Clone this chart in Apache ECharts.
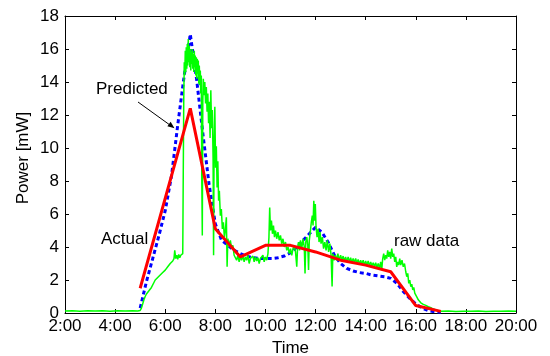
<!DOCTYPE html>
<html>
<head>
<meta charset="utf-8">
<script src="https://cdn.jsdelivr.net/npm/echarts@6/dist/echarts.min.js"></script>
<style>
html,body{margin:0;padding:0;background:#fff;}
#c{width:550px;height:356px;}
</style>
</head>
<body>
<div id="c"></div>
<script>
// Axis ticks
var xTicks = [2, 4, 6, 8, 10, 12, 14, 16, 18, 20];
var yTicks = [0, 2, 4, 6, 8, 10, 12, 14, 16, 18];

// Raw data (green)
var rawTime = [2.00,2.30,2.60,2.90,3.20,3.50,3.80,4.10,4.40,4.70,4.90,5.00,5.05,5.10,5.15,5.20,5.25,5.30,5.35,5.40,5.45,5.50,5.55,5.60,5.65,5.70,5.75,5.80,5.85,5.90,5.95,6.00,6.05,6.10,6.15,6.20,6.25,6.30,6.35,6.38,6.42,6.46,6.50,6.54,6.58,6.62,6.66,6.70,6.72,6.74,6.76,6.78,6.80,6.82,6.84,6.86,6.88,6.90,6.92,6.94,6.96,6.98,7.00,7.02,7.04,7.06,7.08,7.10,7.12,7.14,7.16,7.18,7.20,7.22,7.24,7.26,7.28,7.30,7.32,7.34,7.36,7.38,7.40,7.42,7.44,7.46,7.48,7.50,7.52,7.55,7.58,7.61,7.64,7.67,7.70,7.73,7.76,7.79,7.82,7.85,7.88,7.91,7.93,7.95,7.98,8.01,8.04,8.07,8.10,8.13,8.16,8.20,8.24,8.28,8.32,8.36,8.40,8.44,8.47,8.50,8.55,8.60,8.65,8.70,8.75,8.80,8.85,8.90,8.95,9.00,9.05,9.10,9.15,9.20,9.25,9.30,9.35,9.40,9.45,9.50,9.55,9.60,9.65,9.70,9.75,9.80,9.85,9.90,9.95,10.00,10.05,10.10,10.14,10.17,10.20,10.24,10.28,10.32,10.36,10.40,10.45,10.50,10.55,10.60,10.65,10.70,10.75,10.80,10.85,10.90,10.95,11.00,11.05,11.10,11.15,11.20,11.25,11.28,11.32,11.36,11.40,11.45,11.50,11.55,11.58,11.61,11.65,11.69,11.72,11.75,11.79,11.83,11.87,11.90,11.93,11.96,11.99,12.02,12.06,12.10,12.14,12.18,12.22,12.27,12.32,12.37,12.42,12.47,12.52,12.57,12.62,12.66,12.69,12.74,12.79,12.84,12.89,12.94,13.00,13.05,13.10,13.15,13.20,13.25,13.30,13.35,13.40,13.45,13.50,13.55,13.60,13.65,13.70,13.75,13.80,13.85,13.90,13.95,14.00,14.05,14.10,14.15,14.20,14.25,14.30,14.35,14.40,14.45,14.50,14.55,14.60,14.64,14.68,14.72,14.76,14.80,14.84,14.88,14.92,14.96,15.00,15.04,15.08,15.12,15.16,15.20,15.24,15.28,15.32,15.36,15.40,15.45,15.50,15.55,15.60,15.64,15.68,15.72,15.76,15.80,15.84,15.88,15.92,15.96,16.00,16.05,16.10,16.15,16.20,16.30,16.40,16.50,16.60,16.70,16.80,16.90,17.00,17.30,17.60,17.90,18.20,18.50,18.80,19.10,19.40,19.70,20.00];
var rawPower = [0.12,0.14,0.11,0.13,0.12,0.14,0.11,0.13,0.12,0.14,0.12,0.15,0.30,0.55,0.80,1.00,1.15,1.10,1.35,1.30,1.55,1.60,1.85,2.00,1.95,2.15,2.10,2.30,2.25,2.45,2.40,2.60,2.55,2.80,2.75,3.00,2.95,3.15,3.30,3.80,3.30,3.50,3.25,3.55,3.35,3.50,3.40,3.60,8.50,13.00,15.20,14.40,15.90,14.60,16.10,14.80,16.30,15.00,16.60,15.20,16.20,14.90,16.00,14.70,15.80,15.10,16.00,14.80,15.70,14.60,15.90,14.90,15.60,14.40,15.50,14.20,15.40,14.50,15.30,13.90,15.00,13.80,14.70,13.30,14.40,8.00,4.70,12.80,14.20,13.20,14.00,12.70,13.70,12.20,13.30,11.50,12.80,10.60,13.50,11.20,12.30,9.40,3.50,10.20,12.50,8.80,10.10,7.60,9.20,6.80,7.40,5.90,6.30,5.10,5.50,4.60,5.00,5.80,2.80,4.50,4.10,4.40,3.90,4.10,3.50,3.60,3.20,3.50,3.10,3.40,3.20,3.50,3.10,3.40,3.20,3.50,3.00,3.30,3.20,3.45,3.10,3.40,3.15,3.35,3.00,3.30,3.20,3.50,3.10,3.40,3.20,3.60,4.60,6.40,5.00,5.60,4.80,5.30,4.60,5.00,4.50,4.90,4.40,4.70,4.20,4.50,4.00,4.30,3.80,4.00,3.60,3.90,3.50,3.90,4.10,3.70,2.80,3.90,4.30,3.80,4.40,3.90,4.50,4.00,2.40,4.30,4.60,4.10,2.60,4.40,4.90,5.50,5.90,5.30,6.80,5.60,6.60,5.20,4.60,5.10,4.30,4.90,4.20,4.60,3.90,4.30,3.80,4.40,3.70,4.20,3.50,1.60,3.60,3.20,3.50,3.20,3.60,3.20,3.50,3.20,3.45,3.15,3.40,3.10,3.40,3.10,3.35,3.05,3.30,3.05,3.30,3.00,3.25,2.95,3.20,2.95,3.20,2.90,3.15,2.90,3.15,2.85,3.10,2.85,3.05,2.80,3.05,2.75,3.00,2.70,3.10,2.60,3.30,3.60,3.20,3.50,3.30,3.80,3.40,3.70,3.30,3.90,3.40,3.60,3.10,3.40,2.80,3.10,2.90,3.30,2.90,3.20,2.80,3.00,2.50,2.20,2.40,1.80,2.00,1.60,1.75,1.40,1.55,1.20,1.10,0.95,0.80,0.70,0.62,0.52,0.46,0.38,0.32,0.24,0.18,0.13,0.10,0.12,0.09,0.11,0.10,0.12,0.09,0.11,0.10,0.12,0.10];

// Actual (red)
var actualTime  = [5, 7, 8, 9, 10, 11, 12, 13, 14, 15, 16, 17];
var actualPower = [1.5, 12.4, 5.1, 3.4, 4.1, 4.1, 3.7, 3.2, 2.9, 2.5, 0.45, 0.1];

// Predicted (blue)
var predTime  = [5.0,5.25,5.5,5.75,6.0,6.25,6.5,6.75,7.0,7.25,7.5,7.75,8.0,8.25,8.5,8.75,9.0,9.25,9.5,9.75,10.0,10.25,10.5,10.75,11.0,11.25,11.5,11.75,12.0,12.25,12.5,12.75,13.0,13.25,13.5,13.75,14.0,14.25,14.5,14.75,15.0,15.25,15.5,15.75,16.0,16.25,16.5,16.75,17.0];
var predPower = [0.3,1.9,3.3,4.7,6.2,8.3,11.4,14.3,16.9,14.2,10.9,7.8,5.4,4.4,4.1,3.8,3.6,3.45,3.35,3.3,3.3,3.3,3.35,3.45,3.65,4.0,4.4,4.8,5.2,4.9,4.3,3.5,3.0,2.7,2.55,2.45,2.4,2.3,2.25,2.2,2.1,1.8,1.3,0.9,0.55,0.3,0.15,0.08,0.05];

function zip(a, b) { var r = []; for (var i = 0; i < a.length; i++) r.push([a[i], b[i]]); return r; }

var FONT = '"Liberation Sans", Arial, Helvetica, sans-serif';
var chart = echarts.init(document.getElementById('c'), null, {renderer: 'canvas'});

var axisCommon = {
  axisLine: {show: true, onZero: false, lineStyle: {color: '#000', width: 1}},
  axisTick: {show: true, inside: true, length: 4, lineStyle: {color: '#000', width: 1}},
  splitLine: {show: false}
};

var option = {
  animation: false,
  backgroundColor: '#fff',
  grid: {left: 65, right: 34, top: 16, bottom: 43, containLabel: false, outerBoundsMode: 'none'},
  xAxis: [
    Object.assign({
      type: 'value', min: xTicks[0], max: xTicks[xTicks.length - 1], interval: 2,
      position: 'bottom',
      name: 'Time', nameLocation: 'middle', nameGap: 24,
      nameTextStyle: {fontFamily: FONT, fontSize: 17, color: '#000'},
      axisLabel: {fontFamily: FONT, fontSize: 17, color: '#000', margin: 5,
        formatter: function (v) { return v + ':00'; }}
    }, axisCommon),
    Object.assign({
      type: 'value', min: xTicks[0], max: xTicks[xTicks.length - 1], interval: 2,
      position: 'top', axisLabel: {show: false}
    }, axisCommon)
  ],
  yAxis: [
    Object.assign({
      type: 'value', min: yTicks[0], max: yTicks[yTicks.length - 1], interval: 2,
      position: 'left',
      axisLabel: {fontFamily: FONT, fontSize: 17, color: '#000', margin: 6}
    }, axisCommon),
    Object.assign({
      type: 'value', min: yTicks[0], max: yTicks[yTicks.length - 1], interval: 2,
      position: 'right', axisLabel: {show: false}
    }, axisCommon)
  ],
  series: [
    {
      name: 'Predicted', type: 'line', data: zip(predTime, predPower),
      showSymbol: false, symbol: 'none', z: 2,
      lineStyle: {color: '#0000ff', width: 3, type: [4, 3], cap: 'butt'}
    },
    {
      name: 'raw data', type: 'line', data: zip(rawTime, rawPower),
      showSymbol: false, symbol: 'none', z: 3,
      lineStyle: {color: '#00ff00', width: 1.5}
    },
    {
      name: 'Actual', type: 'line', data: zip(actualTime, actualPower),
      showSymbol: false, symbol: 'none', z: 4,
      lineStyle: {color: '#ff0000', width: 3}
    }
  ],
  graphic: [
    {type: 'text', x: 23, y: 158, rotation: Math.PI / 2,
      style: {text: 'Power [mW]', font: '17px ' + FONT, fill: '#000', align: 'center', verticalAlign: 'middle'}},
    {type: 'text', x: 96, y: 89,
      style: {text: 'Predicted', font: '17px ' + FONT, fill: '#000', align: 'left', verticalAlign: 'middle'}},
    {type: 'text', x: 101, y: 239,
      style: {text: 'Actual', font: '17px ' + FONT, fill: '#000', align: 'left', verticalAlign: 'middle'}},
    {type: 'text', x: 394, y: 241,
      style: {text: 'raw data', font: '17px ' + FONT, fill: '#000', align: 'left', verticalAlign: 'middle'}},
    {type: 'line', shape: {x1: 138, y1: 102, x2: 171, y2: 125.8},
      style: {stroke: '#000', lineWidth: 1}},
    {type: 'polygon', shape: {points: [[174.5, 128.3], [167.4, 126.2], [170.6, 121.8]]},
      style: {fill: '#000'}}
  ]
};
chart.setOption(option);
</script>
</body>
</html>
